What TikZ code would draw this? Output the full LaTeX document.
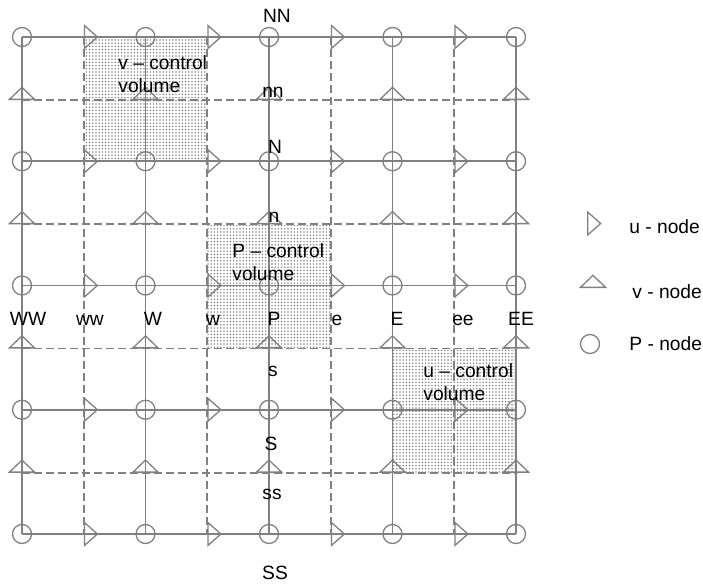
\documentclass[tikz,border=0pt]{standalone}
\usepackage{fontspec}
\setmainfont{Liberation Sans}
\usetikzlibrary{shapes.geometric,patterns.meta,backgrounds}

\begin{document}
\begin{tikzpicture}[x=0.5pt, y=-0.5pt, font=\fontsize{9.6}{11.5}\selectfont,
	grid/.style={draw=gray, line width=0.8pt},
	stag/.style={draw=gray, line width=0.8pt, dash pattern=on 4pt off 2pt},
	pnode/.style={circle, draw=gray, line width=0.65pt, minimum size=9.5pt, inner sep=0pt},
	unode/.style={isosceles triangle, isosceles triangle stretches, draw=gray, line width=0.65pt,
		minimum width=11.5pt, minimum height=6.5pt, inner sep=0pt, anchor=lower side},
	vnode/.style={unode, shape border rotate=90, minimum width=12.5pt, minimum height=6pt},
	cv/.style={pattern={Dots[distance=1.6pt, radius=0.42pt]}, pattern color=gray},
	lbl/.style={inner sep=0pt, anchor=base},
	cvtext/.style={inner sep=0pt, align=left, anchor=base west}]
 \useasboundingbox (0,0) rectangle (703,584);

 % P-, u- and v-nodes of the staggered grid
 \foreach \i in {0,...,4}
 	\foreach \j in {0,...,4}
 		\node[pnode] (p-\i-\j) at ({22+123.5*\i},{37+124.25*\j}) {};
 \foreach \i in {0,...,3}
 	\foreach \j in {0,...,4}
 		\node[unode] (u-\i-\j) at ({83.75+123.5*\i},{37+124.25*\j}) {};
 \foreach \i in {0,...,4}
 	\foreach \j in {0,...,3}
 		\node[vnode] (v-\i-\j) at ({22+123.5*\i},{100+124.25*\j}) {};

 % grid lines
 \foreach \k in {0,...,4}{
 	\draw[grid] (p-0-\k.center) -- (p-4-\k.center);
 	\draw[grid] (p-\k-0.center) -- (p-\k-4.center);
 }
 \foreach \k in {0,...,3}{
 	\draw[stag] (u-\k-0.lower side) -- (u-\k-4.lower side);
 	\draw[stag] (v-0-\k.lower side) -- (v-4-\k.lower side);
 }

 % control volumes
 \begin{scope}[on background layer]
 	\fill[cv] (u-0-0.lower side) rectangle (u-1-1.lower side);
 	\fill[cv] (u-1-0.lower side |- v-0-1.lower side) rectangle (u-2-0.lower side |- v-0-2.lower side);
 	\fill[cv] (p-3-0.center |- v-0-2.lower side) rectangle (p-4-0.center |- v-0-3.lower side);
 \end{scope}
 \node[cvtext] (vcv) at (118,92) {v – control\\volume};
 \node[cvtext] (pcv) at (232,280) {P – control\\volume};
 \node[cvtext] (ucv) at (423,400) {u – control\\volume};

 % labels
 \node[lbl] (lNN) at (277,22) {NN};
 \node[lbl] (lnn) at (273,97) {nn};
 \node[lbl] (lN) at (275,153) {N};
 \node[lbl] (ln) at (274,222) {n};
 \node[lbl] (lP) at (274,325) {P};
 \node[lbl] (ls) at (273,376) {s};
 \node[lbl] (lS) at (271,450) {S};
 \node[lbl] (lss) at (272,499) {ss};
 \node[lbl] (lSS) at (275,579) {SS};
 \node[lbl] (lWW) at (28,325) {WW};
 \node[lbl] (lww) at (90,325) {ww};
 \node[lbl] (lW) at (153,325) {W};
 \node[lbl] (lw) at (213,325) {w};
 \node[lbl] (le) at (337,325) {e};
 \node[lbl] (lE) at (397,325) {E};
 \node[lbl] (lee) at (463,325) {ee};
 \node[lbl] (lEE) at (521,325) {EE};

 % legend
 \node[unode] (keyu) at (587,223.5) {};
 \node[vnode] (keyv) at (593,288) {};
 \node[pnode] (keyp) at (590,344) {};
 \node[cvtext] (tu) at (629,233) {u - node};
 \node[cvtext] (tv) at (632,298) {v - node};
 \node[cvtext] (tp) at (629,350) {P - node};
\end{tikzpicture}
\end{document}
